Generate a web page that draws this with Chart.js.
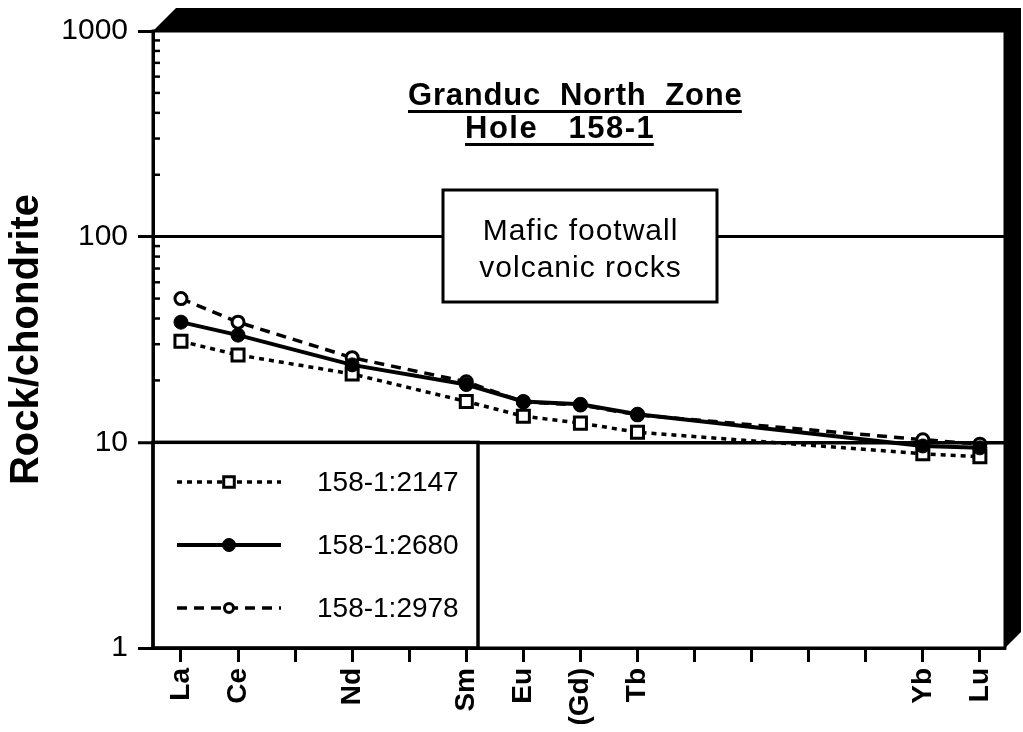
<!DOCTYPE html>
<html>
<head>
  <meta charset="UTF-8" />
  <title>Granduc North Zone - Hole 158-1</title>
  <script src="https://cdn.jsdelivr.net/npm/chart.js"></script>
  <style>
    body {
      margin: 0;
      background-color: white;
    }
    #wrap {
      width: 1023px;
      height: 732px;
    }
  </style>
</head>
<body>
  <div id="wrap">
    <canvas id="chart" width="1023" height="732"></canvas>
  </div>

  <script>
    // REE order on the x axis (1..15)
    const elementNames = ['La', 'Ce', 'Pr', 'Nd', 'Pm', 'Sm', 'Eu', 'Gd', 'Tb', 'Dy', 'Ho', 'Er', 'Tm', 'Yb', 'Lu'];
    const tickLabels = ['La', 'Ce', '', 'Nd', '', 'Sm', 'Eu', '(Gd)', 'Tb', '', '', '', '', 'Yb', 'Lu'];
    const analysed = ['La', 'Ce', 'Nd', 'Sm', 'Eu', 'Gd', 'Tb', 'Yb', 'Lu'];

    // chondrite-normalised values
    const s2147 = [31, 26.6, 21.5, 15.8, 13.4, 12.4, 11.2, 8.8, 8.5];
    const s2680 = [38.4, 33.2, 23.8, 19.1, 15.8, 15.3, 13.7, 9.6, 9.4];
    const s2978 = [50, 38.4, 25.8, 19.7, 15.7, 15.2, 13.6, 10.3, 9.8];

    const yTickLabels = ['1', '10', '100', '1000'];

    const FONT = '"Liberation Sans", Arial, Helvetica, sans-serif';

    function toPoints(values) {
      return analysed.map((el, i) => ({ x: elementNames.indexOf(el) + 1, y: values[i] }));
    }

    function isDecade(v) {
      return yTickLabels.includes(String(v));
    }

    // text with letter spacing, optional underline
    function drawText(ctx, txt, x, y, font, spacing, align, underline) {
      ctx.save();
      ctx.font = font;
      ctx.fillStyle = '#000';
      ctx.textBaseline = 'alphabetic';
      ctx.letterSpacing = spacing + 'px';
      const w = ctx.measureText(txt).width - spacing;
      const x0 = align === 'center' ? x - w / 2 : x;
      ctx.textAlign = 'left';
      ctx.fillText(txt, x0, y);
      if (underline) {
        ctx.fillRect(x0, y + 5, w, 3);
      }
      ctx.restore();
    }

    // legend marker sizes (smaller than the plotted ones for the open circle)
    const legendRadius = [7.5, 6.5, 4.5];

    const decorations = {
      id: 'decorations',
      beforeDatasetsDraw(chart) {
        const ctx = chart.ctx;
        // inward minor ticks on the log axis
        const y = chart.scales.y;
        const left = chart.chartArea.left;
        ctx.save();
        ctx.strokeStyle = '#000';
        ctx.lineWidth = 2.5;
        y.ticks.forEach(t => {
          if (isDecade(t.value)) return;
          const py = y.getPixelForValue(t.value);
          ctx.beginPath();
          ctx.moveTo(left, py);
          ctx.lineTo(left + 7, py);
          ctx.stroke();
        });

        // label box across the 100 line
        ctx.fillStyle = '#fff';
        ctx.fillRect(443, 190, 274, 112);
        ctx.lineWidth = 3;
        ctx.strokeRect(443, 190, 274, 112);
        ctx.restore();
        drawText(ctx, 'Mafic footwall', 580, 240, '30px ' + FONT, 1, 'center');
        drawText(ctx, 'volcanic rocks', 580, 277, '30px ' + FONT, 1, 'center');
      },
      afterDraw(chart) {
        const ctx = chart.ctx;
        const { left, right, top, bottom } = chart.chartArea;
        const y10 = chart.scales.y.getPixelForValue(10);

        ctx.save();
        // drop shadow of the frame
        ctx.fillStyle = '#000';
        ctx.beginPath();
        ctx.moveTo(left, top);
        ctx.lineTo(left + 23, top - 23);
        ctx.lineTo(right + 16, top - 23);
        ctx.lineTo(right + 16, bottom - 16);
        ctx.lineTo(right, bottom);
        ctx.lineTo(right, top);
        ctx.closePath();
        ctx.fill();

        ctx.strokeStyle = '#000';
        ctx.lineWidth = 3;
        ctx.strokeRect(left, top, right - left, bottom - top);

        // legend box
        const boxRight = 478;
        ctx.fillStyle = '#fff';
        ctx.fillRect(left + 1.5, y10, boxRight - left - 1.5, bottom - y10 - 1.5);
        ctx.lineWidth = 3.5;
        ctx.strokeRect(left, y10, boxRight - left, bottom - y10);

        const rows = [482, 545, 608];
        [0, 1, 2].forEach((di, r) => {
          const ds = chart.data.datasets[di];
          const ry = rows[r];
          ctx.save();
          ctx.strokeStyle = ds.borderColor;
          ctx.lineWidth = ds.borderWidth;
          ctx.setLineDash(ds.borderDash || []);
          ctx.beginPath();
          ctx.moveTo(177, ry);
          ctx.lineTo(281, ry);
          ctx.stroke();
          ctx.restore();
          ctx.save();
          ctx.fillStyle = ds.pointBackgroundColor;
          ctx.strokeStyle = ds.pointBorderColor;
          ctx.lineWidth = ds.pointBorderWidth;
          Chart.helpers.drawPoint(ctx, {
            pointStyle: ds.pointStyle,
            radius: legendRadius[r],
            rotation: 0,
            borderWidth: ds.pointBorderWidth
          }, 229, ry);
          ctx.restore();
          ctx.save();
          ctx.font = '28px ' + FONT;
          ctx.fillStyle = '#000';
          ctx.textBaseline = 'middle';
          ctx.fillText(ds.label, 317, ry + 1);
          ctx.restore();
        });
        ctx.restore();

        // title
        drawText(ctx, 'Granduc  North  Zone', 408, 105, 'bold 31px ' + FONT, 0.8, 'left', true);
        drawText(ctx, 'Hole   158-1', 465, 138, 'bold 31px ' + FONT, 1.5, 'left', true);
      }
    };

    const ctx = document.getElementById('chart').getContext('2d');
    const chart = new Chart(ctx, {
      type: 'line',
      data: {
        datasets: [
          {
            label: '158-1:2147',
            data: toPoints(s2147),
            borderColor: '#000',
            borderWidth: 3.5,
            borderDash: [5, 5],
            pointStyle: 'rect',
            pointRadius: 8.5,
            pointBorderWidth: 3,
            pointBackgroundColor: '#fff',
            pointBorderColor: '#000',
            tension: 0,
            order: 1
          },
          {
            label: '158-1:2680',
            data: toPoints(s2680),
            borderColor: '#000',
            borderWidth: 4,
            borderDash: [],
            pointStyle: 'circle',
            pointRadius: 7,
            pointBorderWidth: 1,
            pointBackgroundColor: '#000',
            pointBorderColor: '#000',
            tension: 0,
            order: 0
          },
          {
            label: '158-1:2978',
            data: toPoints(s2978),
            borderColor: '#000',
            borderWidth: 3.5,
            borderDash: [10, 7],
            pointStyle: 'circle',
            pointRadius: 6,
            pointBorderWidth: 3,
            pointBackgroundColor: '#fff',
            pointBorderColor: '#000',
            tension: 0,
            order: 2
          }
        ]
      },
      options: {
        responsive: false,
        animation: false,
        events: [],
        layout: { padding: { top: 31, right: 18, left: 0, bottom: 0 } },
        plugins: {
          legend: { display: false },
          tooltip: { enabled: false }
        },
        scales: {
          x: {
            type: 'linear',
            min: 0.51,
            max: 15.44,
            afterFit(scale) { scale.height = 84; },
            grid: {
              drawOnChartArea: false,
              drawTicks: true,
              tickLength: 14,
              tickWidth: 3,
              tickColor: '#000'
            },
            border: { display: true, color: '#000', width: 3 },
            ticks: {
              stepSize: 1,
              autoSkip: false,
              includeBounds: false,
              maxRotation: 90,
              minRotation: 90,
              padding: 6,
              color: '#000',
              font: { family: FONT, size: 28, weight: 'bold' },
              callback: v => tickLabels[v - 1] || ''
            }
          },
          y: {
            type: 'logarithmic',
            min: 1,
            max: 1000,
            afterFit(scale) { scale.width = 153; },
            afterBuildTicks(scale) {
              const t = [];
              for (let d = 1; d < 1000; d *= 10) {
                for (let m = 1; m < 10; m++) t.push({ value: m * d });
              }
              t.push({ value: 1000 });
              scale.ticks = t;
            },
            grid: {
              color: c => (c.tick && (c.tick.value === 10 || c.tick.value === 100)) ? '#000' : 'rgba(0,0,0,0)',
              lineWidth: c => (c.tick && c.tick.value === 10) ? 3.5 : 3,
              tickLength: 15,
              tickWidth: 3,
              tickColor: c => (c.tick && isDecade(c.tick.value)) ? '#000' : 'rgba(0,0,0,0)'
            },
            border: { display: true, color: '#000', width: 3 },
            ticks: {
              padding: 10,
              color: '#000',
              autoSkip: false,
              font: { family: FONT, size: 30 },
              callback: v => isDecade(v) ? String(v) : ''
            },
            title: {
              display: true,
              text: 'Rock/chondrite',
              color: '#000',
              font: { family: FONT, size: 40, weight: 'bold' },
              padding: { top: 3, bottom: 0 }
            }
          }
        }
      },
      plugins: [decorations]
    });
  </script>
</body>
</html>
